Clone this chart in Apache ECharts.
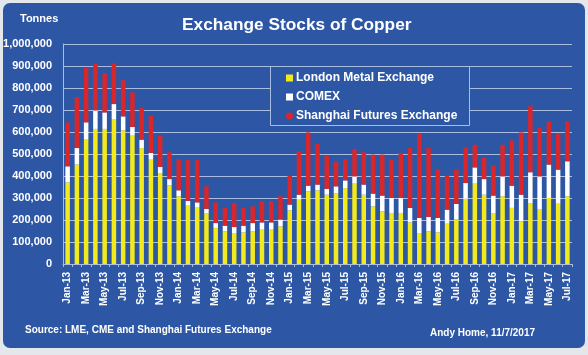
<!DOCTYPE html>
<html>
<head>
<meta charset="utf-8">
<script src="https://cdn.jsdelivr.net/npm/echarts@6/dist/echarts.min.js"></script>
<style>
html,body{margin:0;padding:0;background:#e4e7ec;}
#bg{position:absolute;left:3px;top:3px;width:582px;height:345px;background:#2d57a5;border-radius:7px;}
#chart{position:absolute;left:0;top:0;width:588px;height:355px;}
</style>
</head>
<body>
<div id="bg"></div>
<div id="chart"></div>
<script>
const categories = ['Jan-13','Feb-13','Mar-13','Apr-13','May-13','Jun-13','Jul-13','Aug-13','Sep-13','Oct-13','Nov-13','Dec-13',
'Jan-14','Feb-14','Mar-14','Apr-14','May-14','Jun-14','Jul-14','Aug-14','Sep-14','Oct-14','Nov-14','Dec-14',
'Jan-15','Feb-15','Mar-15','Apr-15','May-15','Jun-15','Jul-15','Aug-15','Sep-15','Oct-15','Nov-15','Dec-15',
'Jan-16','Feb-16','Mar-16','Apr-16','May-16','Jun-16','Jul-16','Aug-16','Sep-16','Oct-16','Nov-16','Dec-16',
'Jan-17','Feb-17','Mar-17','Apr-17','May-17','Jun-17','Jul-17'];

const lme = [371000,452000,565000,614000,614000,659000,608000,583000,527000,474000,411000,358000,
308000,265000,259000,229000,164000,148000,141000,144000,148000,159000,159000,171000,
244000,292000,330000,335000,315000,320000,345000,365000,315000,262000,239000,232000,
232000,189000,138000,148000,144000,183000,202000,297000,365000,315000,229000,308000,
255000,194000,277000,247000,300000,274000,308000];

const comex = [73000,75000,79000,84000,75000,68000,63000,40000,38000,31000,30000,28000,
27000,22000,21000,21000,22000,26000,27000,30000,38000,30000,30000,31000,
26000,23000,26000,26000,26000,33000,35000,33000,46000,58000,72000,68000,
68000,66000,71000,66000,65000,64000,71000,71000,74000,71000,82000,90000,
101000,121000,140000,151000,152000,155000,159000];

const shfe = [200000,232000,247000,213000,179000,184000,164000,157000,144000,169000,142000,122000,
142000,187000,194000,103000,94000,81000,109000,81000,76000,96000,96000,106000,
132000,197000,242000,186000,151000,114000,97000,125000,147000,177000,186000,174000,
205000,272000,383000,313000,220000,155000,156000,162000,103000,96000,136000,144000,
206000,283000,300000,220000,196000,166000,181000];

const yTicks = {min:0, max:1000000, interval:100000};

const chart = echarts.init(document.getElementById('chart'), null, {renderer:'canvas'});
const font = 'Arial, "Liberation Sans", sans-serif';
const gridColor = '#a9bde3';

chart.setOption({
  backgroundColor: 'transparent',
  animation: false,
  title: {
    text: 'Exchange Stocks of Copper',
    left: 177, top: 12,
    textStyle: {color:'#ffffff', fontSize:17.3, fontWeight:'bold', fontFamily:font}
  },
  graphic: [
    {type:'text', left:20, top:13, z:10, style:{text:'Tonnes', fill:'#ffffff', font:'bold 11px ' + font}},
    {type:'text', left:25, top:325, z:10, style:{text:'Source: LME, CME and Shanghai Futures Exchange', fill:'#ffffff', font:'bold 10px ' + font}},
    {type:'text', left:430, top:328, z:10, style:{text:'Andy Home, 11/7/2017', fill:'#ffffff', font:'bold 10px ' + font}},
    {type:'rect', left:270, top:66, z:3, shape:{width:199, height:59}, style:{fill:'#2d57a5', stroke:gridColor, lineWidth:1}}
  ],
  legend: {
    orient: 'vertical',
    left: 281, top: 67,
    z: 5,
    itemWidth: 7, itemHeight: 7, itemGap: 7,
    textStyle: {color:'#ffffff', fontSize:12, fontWeight:'bold', fontFamily:font, padding:[0,0,0,-2]},
    data: [
      {name:'London Metal Exchange', icon:'rect'},
      {name:'COMEX', icon:'rect'},
      {name:'Shanghai Futures Exchange', icon:'circle'}
    ]
  },
  grid: {left:63, right:16, top:44, bottom:91, containLabel:false},
  xAxis: {
    type: 'category',
    data: categories,
    axisLine: {lineStyle:{color:gridColor}},
    axisTick: {show:true, interval:0, length:3, lineStyle:{color:gridColor}},
    axisLabel: {interval:1, rotate:90, color:'#ffffff', fontSize:10, fontWeight:'bold', fontFamily:font, margin:8}
  },
  yAxis: {
    type: 'value',
    min: yTicks.min, max: yTicks.max, interval: yTicks.interval,
    axisLine: {show:true, lineStyle:{color:gridColor}},
    axisTick: {show:false},
    splitLine: {lineStyle:{color:gridColor, width:1}},
    axisLabel: {
      color:'#ffffff', fontSize:11, fontWeight:'bold', fontFamily:font, margin:11,
      formatter: v => v.toLocaleString('en-US')
    }
  },
  series: [
    {name:'London Metal Exchange', type:'bar', stack:'s', data:lme, barWidth:4.5, itemStyle:{color:'#f2ea1c'}},
    {name:'COMEX', type:'bar', stack:'s', data:comex, barWidth:4.5, itemStyle:{color:'#ffffff'}},
    {name:'Shanghai Futures Exchange', type:'bar', stack:'s', data:shfe, barWidth:4.5, itemStyle:{color:'#d8262b'}}
  ]
});
</script>
</body>
</html>
